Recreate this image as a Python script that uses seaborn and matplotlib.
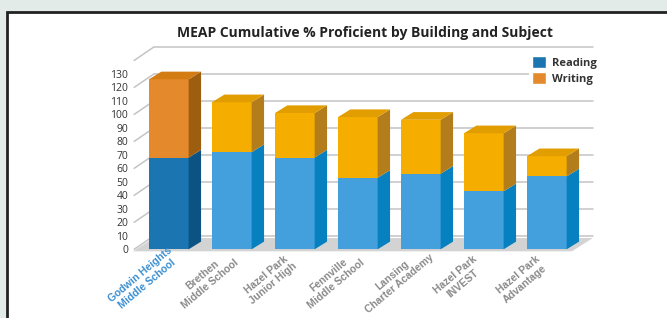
import matplotlib.pyplot as plt
import seaborn as sns
import numpy as np
import pandas as pd
from matplotlib.patches import Polygon, Rectangle, Patch

schools = ["Godwin Heights\nMiddle School", "Brethen\nMiddle School", "Hazel Park\nJunior High",
           "Fennville\nMiddle School", "Lansing\nCharter Academy", "Hazel Park\nINVEST",
           "Hazel Park\nAdvantage"]
reading = [68, 72, 68, 53, 56, 43, 54]
writing = [58, 37, 33, 45, 40, 43, 15]
y_ticks = list(range(0, 140, 10))
grid_vals = list(range(0, 160, 20))

# colours: first school is highlighted
read_front = ["#1a75b0"] + ["#44a0dc"] * 6
read_side = ["#0c5283"] + ["#0680bf"] * 6
write_front = ["#e58a2c"] + ["#f5ae00"] * 6
write_side = ["#9e5e10"] + ["#b47d1c"] * 6
write_top = ["#d47c14"] + ["#e29e00"] * 6

sns.set_theme(style="white")
plt.rcParams['font.family'] = ['Open Sans', 'DejaVu Sans']

fig = plt.figure(figsize=(6.67, 3.18), dpi=100)
fig.patch.set_facecolor("#e3ebe9")
fig.patches.append(Rectangle((7 / 667, -0.1), 1.0, 1 - 12 / 318 + 0.1, transform=fig.transFigure,
                             facecolor="white", edgecolor="#222222", linewidth=2, zorder=-10))

ax = fig.add_axes([131 / 667, (318 - 253.35) / 318, 463.05 / 667, 209.1 / 318])
ax.patch.set_alpha(0)

df = pd.DataFrame({"school": schools, "reading": reading,
                   "total": np.array(reading) + np.array(writing)})

bw = 0.63          # bar width (front face)
bdx, bdy = 0.197, 5.7   # bar depth offset
wdx, wdy = 0.33, 9.86   # wall / floor depth offset
x0, x1 = -0.57, 6.40    # floor front extent

# floor
ax.add_patch(Polygon([(x0, -1.5), (x1, -1.5), (x1 + wdx, -1.5 + wdy), (x0 + wdx, -1.5 + wdy)],
                     closed=True, facecolor="#d3d3d3", edgecolor="none", zorder=1))
# wall gridlines
for v in grid_vals:
    ax.plot([x0 + 0.02, x0 + wdx], [v, v + wdy], color="#c4c4c4", lw=1.1, zorder=0.5)
    ax.plot([x0 + wdx, x1 + wdx], [v + wdy, v + wdy], color="#c4c4c4", lw=1.1, zorder=0.5)

# front faces via seaborn
sns.barplot(data=df, x="school", y="total", hue="school", palette=write_front, width=bw,
            saturation=1, linewidth=0, legend=False, ax=ax, zorder=3)
sns.barplot(data=df, x="school", y="reading", hue="school", palette=read_front, width=bw,
            saturation=1, linewidth=0, legend=False, ax=ax, zorder=4)

# side and top faces
for i in range(len(schools)):
    r = reading[i]
    t = reading[i] + writing[i]
    xr = i + bw / 2
    xl = i - bw / 2
    ax.add_patch(Polygon([(xr, 0), (xr + bdx, bdy), (xr + bdx, r + bdy), (xr, r)],
                         closed=True, facecolor=read_side[i], edgecolor="none", zorder=4))
    ax.add_patch(Polygon([(xr, r), (xr + bdx, r + bdy), (xr + bdx, t + bdy), (xr, t)],
                         closed=True, facecolor=write_side[i], edgecolor="none", zorder=4))
    ax.add_patch(Polygon([(xl, t), (xr, t), (xr + bdx, t + bdy), (xl + bdx, t + bdy)],
                         closed=True, facecolor=write_top[i], edgecolor="none", zorder=4))

ax.set_xlim(-0.6, 6.75)
ax.set_ylim(-3, 152)
ax.set_yticks(y_ticks)
ax.set_yticklabels([str(v) for v in y_ticks], fontsize=7.5, color="#333333")
ax.tick_params(axis="y", length=0, pad=2)
ax.set_xticks([])
ax.set_xlabel("")
ax.set_ylabel("")
for s in ax.spines.values():
    s.set_visible(False)

# rotated category labels, centred under each bar (slightly to the left)
for k, name in enumerate(schools):
    ax.text(k - 0.40, -0.125, name, transform=ax.get_xaxis_transform(),
            rotation=40, rotation_mode="anchor", ha="center", va="center",
            multialignment="center", fontsize=7.5, fontweight="bold",
            family=['Liberation Sans', 'DejaVu Sans'], zorder=6,
            linespacing=1.2, color="#3b8fd0" if k == 0 else "#8a8a8a")

fig.text(365 / 667, 1 - 33 / 318, "MEAP Cumulative % Proficient by Building and Subject",
         ha="center", va="center", fontsize=10, fontweight="bold", color="#222222")

handles = [Patch(facecolor="#1a75b0", label="Reading"), Patch(facecolor="#e58a2c", label="Writing")]
leg = fig.legend(handles=handles, loc="upper left", bbox_to_anchor=(529 / 667, 1 - 53 / 318),
                 frameon=True, facecolor="white", edgecolor="none", framealpha=1,
                 fontsize=8, handlelength=1.25, handleheight=1.25, handletextpad=0.5,
                 labelspacing=0.3, borderpad=0.3, borderaxespad=0)
for t in leg.get_texts():
    t.set_fontweight("bold")
    t.set_color("#333333")

fig.savefig("out.png", dpi=100)
plt.close()
